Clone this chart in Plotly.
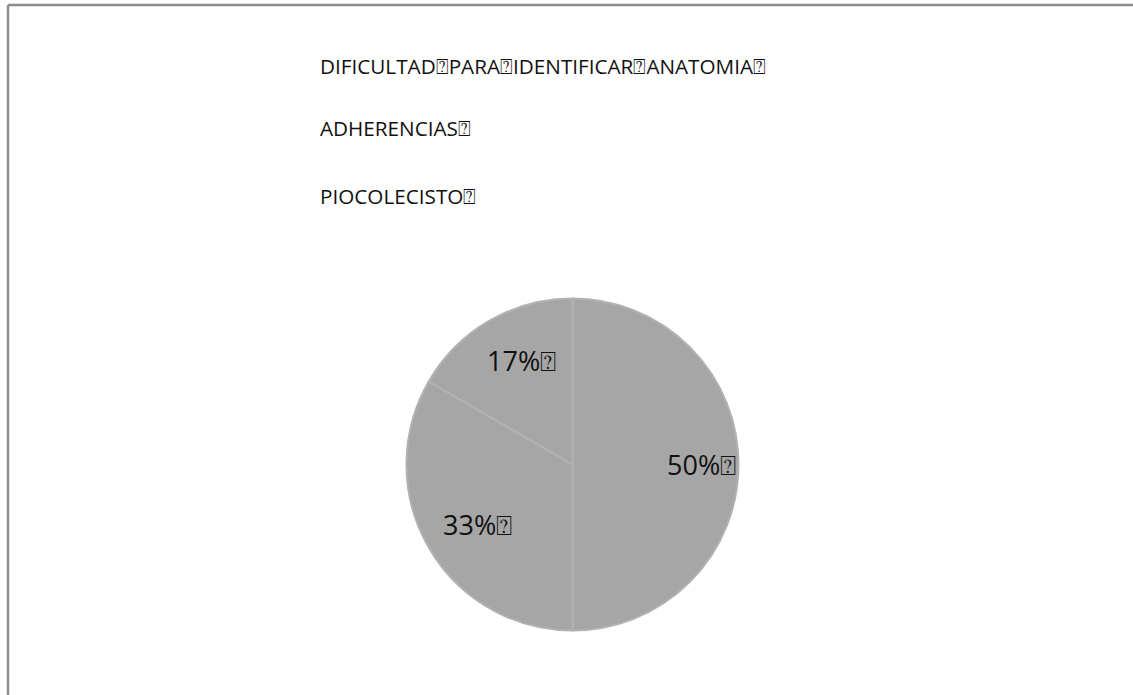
import math
import plotly.graph_objects as go

# Causes of conversion and their case counts
categories = [
    "DIFICULTAD\u2370PARA\u2370IDENTIFICAR\u2370ANATOMIA\u2370",
    "ADHERENCIAS\u2370",
    "PIOCOLECISTO\u2370",
]
counts = [3, 2, 1]
slice_colors = ["#a6a6a6", "#a6a6a6", "#a6a6a6"]

W, H = 1133, 695
FONT = "Open Sans, DejaVu Sans, sans-serif"

# Pie geometry in pixels
CX, CY, R = 572.5, 464.5, 166.0


def px_x(x):
    return x / W


def px_y(y):
    return 1 - y / H


fig = go.Figure(
    go.Pie(
        labels=categories,
        values=counts,
        sort=False,
        direction="clockwise",
        rotation=0,
        marker=dict(colors=slice_colors, line=dict(color="#b2b2b2", width=2)),
        textinfo="none",
        hoverinfo="label+percent",
        domain=dict(x=[px_x(CX - R), px_x(CX + R)], y=[px_y(CY + R), px_y(CY - R)]),
        showlegend=False,
    )
)

# Percentage labels placed at each slice's mid-angle
total = sum(counts)
start = 0.0
for v in counts:
    frac = v / total
    mid = (start + frac / 2) * 2 * math.pi
    start += frac
    lx = CX + 0.72 * R * math.sin(mid)
    ly = CY - 0.72 * R * math.cos(mid)
    fig.add_annotation(
        x=px_x(lx), y=px_y(ly), xref="paper", yref="paper",
        text=f"{round(frac * 100)}%\u2370", showarrow=False,
        xanchor="center", yanchor="middle", xshift=9,
        font=dict(family=FONT, size=27, color="#111111"),
    )

# Category list above the pie, one line per slice
legend_y = [66, 128, 196]
for name, y in zip(categories, legend_y):
    fig.add_annotation(
        x=px_x(318), y=px_y(y), xref="paper", yref="paper",
        text=name, showarrow=False, xanchor="left", yanchor="middle",
        font=dict(family=FONT, size=20.7, color="#111111"),
    )

# Frame along the left and top edges
frame = dict(type="line", xref="paper", yref="paper",
             line=dict(color="#8c8c8c", width=2.5))
fig.add_shape(**frame, x0=px_x(8), y0=0, x1=px_x(8), y1=px_y(5))
fig.add_shape(**frame, x0=px_x(8), y0=px_y(5), x1=1, y1=px_y(5))

fig.update_layout(
    width=W, height=H,
    margin=dict(l=0, r=0, t=0, b=0),
    paper_bgcolor="white",
    plot_bgcolor="white",
    font=dict(family=FONT),
)

fig.write_html("out.html")
